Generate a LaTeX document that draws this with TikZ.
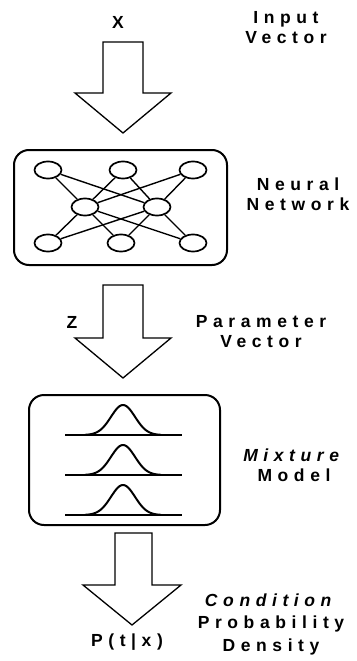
\documentclass[tikz,border=0pt]{standalone}
\usepackage{fontspec}
\setmainfont{Liberation Sans}
\newfontfamily\lblfont[LetterSpace=32]{Liberation Sans}
\usetikzlibrary{shapes.geometric}
\tikzset{
  lbl/.style={font=\lblfont\bfseries\fontsize{17.5}{20}\selectfont, align=center, inner sep=0pt},
  sym/.style={font=\lblfont\bfseries\fontsize{17.5}{20}\selectfont, inner sep=0pt},
  bigarrow/.style={draw=black, fill=white, line width=1.3pt, line join=miter},
  panel/.style={draw=black, line width=2pt, rounded corners=15pt},
  neuron/.style={ellipse, draw=black, line width=1.7pt, fill=white, minimum width=27pt, minimum height=17pt, inner sep=0pt},
  synapse/.style={line width=1.4pt},
  bell/.style={line width=2pt},
  axisline/.style={line width=1.7pt}
}
\begin{document}
\begin{tikzpicture}[x=1pt,y=-1pt]
\useasboundingbox (0,0) rectangle (356,661);

% labels
\node[sym] (x) at (118,22) {X};
\node[lbl] (inlbl) at (286,28) {Input\\Vector};

% arrow 1
\draw[bigarrow] (103,42) -- (143,42) -- (143,93) -- (171,93) -- (123,133) -- (75,93) -- (103,93) -- cycle;

% neural network panel
\draw[panel] (14,150) rectangle (227,265);
\node[neuron] (t1) at (48,170) {};
\node[neuron] (t2) at (123,170) {};
\node[neuron] (t3) at (193,170) {};
\node[neuron] (m1) at (85,207) {};
\node[neuron] (m2) at (157,207) {};
\node[neuron] (b1) at (48,243) {};
\node[neuron] (b2) at (121,243) {};
\node[neuron] (b3) at (193,243) {};
\foreach \a in {t1,t2,t3,b1,b2,b3}{
  \foreach \b in {m1,m2}{
    \draw[synapse] (\a) -- (\b);
  }
}
\node[lbl] (nnlbl) at (298,194) {Neural\\Network};

% arrow 2
\node[sym] (z) at (72,322) {Z};
\draw[bigarrow] (103,285) -- (143,285) -- (143,338) -- (171,338) -- (123,378) -- (75,338) -- (103,338) -- cycle;
\node[lbl] (pvlbl) at (261,332) {Parameter\\Vector};

% mixture panel
\draw[panel] (29,395) rectangle (220,525);
\foreach \base in {435,475,515}{
  \draw[axisline] (65,\base) -- (182,\base);
  \draw[bell] plot[domain=-38:38, samples=70, smooth] ({123+\x},{\base-30*exp(-0.5*(\x/12)^2)});
}
\node[lbl] (mmlbl) at (294,465) {\textit{Mixture}\\Model};

% arrow 3
\draw[bigarrow] (115,533) -- (152,533) -- (152,585) -- (181,585) -- (132,625) -- (83,585) -- (115,585) -- cycle;
\node[sym] (p) at (127,642) {P(t|x)};
\node[lbl, font=\lblfont\bfseries\fontsize{17.5}{22.5}\selectfont] (cpd) at (271,624) {\textit{Condition}\\Probability\\Density};
\end{tikzpicture}
\end{document}
